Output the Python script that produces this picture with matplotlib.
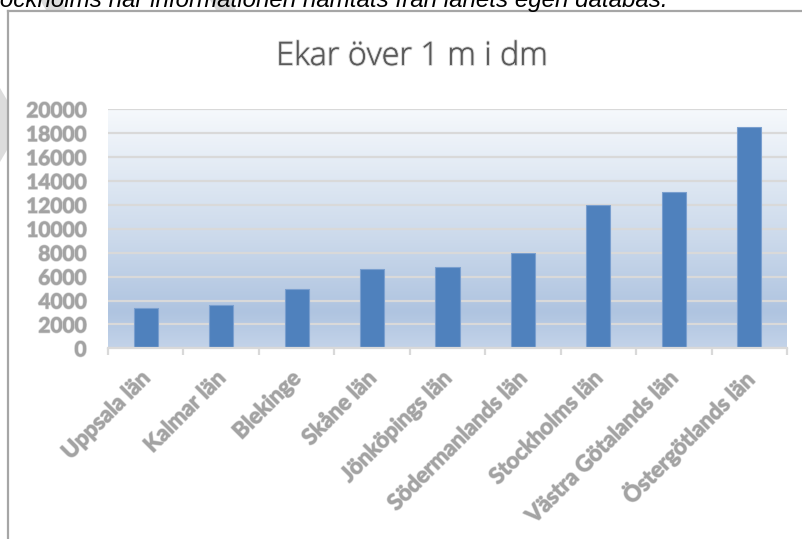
import numpy as np
import matplotlib
matplotlib.use("Agg")
import matplotlib.pyplot as plt
from matplotlib.colors import LinearSegmentedColormap
from matplotlib.lines import Line2D
from matplotlib.patches import Polygon
from matplotlib.transforms import ScaledTranslation
import matplotlib.patheffects as pe

categories = ['Uppsala län', 'Kalmar län', 'Blekinge', 'Skåne län', 'Jönköpings län',
              'Södermanlands län', 'Stockholms län', 'Västra Götalands län',
              'Östergötlands län']
values = [3350, 3600, 5000, 6600, 6800, 8000, 12000, 13100, 18500]
yticks = list(range(0, 20001, 2000))

title = "Ekar över 1 m i dm"
caption = "Stockholms när informationen hämtats från länets egen databas."

W, H = 803, 539
fig = plt.figure(figsize=(W / 100, H / 100), dpi=100)
fig.patch.set_facecolor('white')


def px(xp, yp):
    # pixel position (from top-left) -> figure fraction
    return xp / W, 1 - yp / H


# faint watermark pieces behind the page (decoration only)
for pts in ([(40, 0), (62, 0), (66, 10), (46, 10)],
            [(210, 0), (232, 0), (236, 10), (216, 10)],
            [(0, 88), (7, 100), (7, 150), (0, 162)]):
    fig.add_artist(Polygon([px(*p) for p in pts], closed=True,
                           facecolor='#dcdcdc', edgecolor='none', zorder=0))

# plot area in pixels (left, right, top, bottom)
L, R, T, B = 108, 787, 109.3, 348.3
ax = fig.add_axes([L / W, 1 - B / H, (R - L) / W, (B - T) / H])

# gradient background
grad = LinearSegmentedColormap.from_list(
    'bg', [(0.0, '#f6f9fc'), (0.55, '#cbd9eb'), (0.85, '#afc4e0'), (1.0, '#c3d3e9')])
g = np.linspace(0, 1, 256).reshape(-1, 1)
ax.imshow(g, cmap=grad, aspect='auto', extent=[0, 1, 0, 1],
          transform=ax.transAxes, zorder=0, interpolation='bicubic')

x = np.arange(len(categories))
ax.bar(x, values, width=0.32, color='#4f81bd', edgecolor='#7a9fcf',
       linewidth=0.8, zorder=2)

ax.set_xlim(-0.5, len(categories) - 0.5)
ax.set_ylim(0, 20000)
ax.set_yticks(yticks)
ax.set_yticklabels([str(v) for v in yticks])
ax.yaxis.grid(True, color='#d9d9d9', linewidth=1.6, zorder=1)
ax.set_axisbelow(True)

for s in ['left', 'right', 'top']:
    ax.spines[s].set_visible(False)
ax.spines['bottom'].set_color('#d9d9d9')
ax.spines['bottom'].set_linewidth(1.6)
ax.spines['bottom'].set_zorder(3)

tick_color = '#a3a3a3'
shadow = [pe.withStroke(linewidth=1.2, foreground='#cfcfcf'), pe.Normal()]

ax.tick_params(axis='y', length=0, pad=15.5, labelsize=15, labelcolor=tick_color)
for lab in ax.get_yticklabels():
    lab.set_fontfamily('Lato')
    lab.set_fontweight('bold')
    lab.set_path_effects(shadow)

ax.set_xticks(x)
ax.set_xticks(np.arange(len(categories) + 1) - 0.5, minor=True)
ax.tick_params(axis='x', which='major', length=0, pad=19)
ax.tick_params(axis='x', which='minor', length=5, width=1.6, color='#d9d9d9')
ax.set_xticklabels(categories, rotation=45, ha='right', va='center',
                   rotation_mode='anchor', fontsize=16, color=tick_color,
                   fontfamily='Lato', fontweight='bold')
offset = ScaledTranslation(1 / 100, 0, fig.dpi_scale_trans)
for lab in ax.get_xticklabels():
    lab.set_transform(lab.get_transform() + offset)
    lab.set_path_effects(shadow)

# title
fig.text(*px(412, 65), title, ha='center', va='baseline', fontsize=23.3,
         color='#595959', fontfamily='Open Sans', fontweight='light',
         path_effects=[pe.withStroke(linewidth=1.5, foreground='#d4d4d4'), pe.Normal()])

# chart border (left and top edges, the rest is outside the picture)
fig.add_artist(Line2D([8 / W, 8 / W], [0, 1 - 11 / H], color='#a6a6a6', linewidth=1.6))
fig.add_artist(Line2D([8 / W, 1], [1 - 11 / H, 1 - 11 / H], color='#a6a6a6', linewidth=1.6))

# caption line of the document, cut off at the top
fig.text(*px(-23, 6.5), caption, ha='left', va='baseline', fontsize=17.4,
         style='italic', color='black', fontfamily='Liberation Sans')

fig.savefig('out.png', dpi=100)
